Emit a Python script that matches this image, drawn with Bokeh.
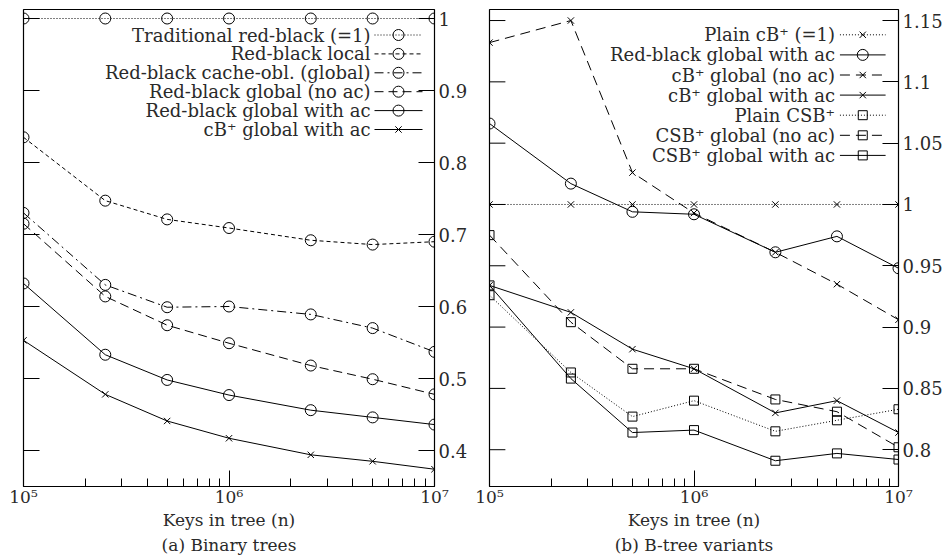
from bokeh.plotting import figure
from bokeh.models import Range1d, FixedTicker, PrintfTickFormatter, Title, LinearScale
from bokeh.layouts import row
from bokeh.core.properties import value
from bokeh.embed import file_html
from bokeh.resources import INLINE

# ---------------- data ----------------
keys = [1e5, 2.5e5, 5e5, 1e6, 2.5e6, 5e6, 1e7]

# (a) Binary trees
bt_traditional = [1.0, 1.0, 1.0, 1.0, 1.0, 1.0, 1.0]
bt_rb_local = [0.835, 0.747, 0.721, 0.709, 0.692, 0.686, 0.690]
bt_rb_cache_obl = [0.730, 0.630, 0.599, 0.600, 0.589, 0.570, 0.537]
bt_rb_global_noac = [0.715, 0.614, 0.574, 0.549, 0.518, 0.499, 0.478]
bt_rb_global_ac = [0.632, 0.533, 0.498, 0.477, 0.456, 0.446, 0.436]
bt_cbp_global_ac = [0.553, 0.478, 0.441, 0.417, 0.394, 0.385, 0.374]

# (b) B-tree variants
bv_plain_cbp = [1.0, 1.0, 1.0, 1.0, 1.0, 1.0, 1.0]
bv_rb_global_ac = [1.066, 1.017, 0.994, 0.992, 0.961, 0.974, 0.948]
bv_cbp_global_noac = [1.132, 1.150, 1.026, 0.993, 0.961, 0.935, 0.906]
bv_cbp_global_ac = [0.934, 0.912, 0.882, 0.866, 0.830, 0.840, 0.814]
bv_plain_csbp = [0.926, 0.863, 0.827, 0.840, 0.815, 0.824, 0.833]
bv_csbp_global_noac = [0.975, 0.904, 0.866, 0.866, 0.841, 0.831, 0.802]
bv_csbp_global_ac = [0.934, 0.858, 0.814, 0.816, 0.791, 0.797, 0.792]

x_major = [1e5, 1e6, 1e7]
x_minor = [2e5, 3e5, 4e5, 5e5, 6e5, 7e5, 8e5, 9e5, 2e6, 3e6, 4e6, 5e6, 6e6, 7e6, 8e6, 9e6]
x_labels = {100000: "10\u2075", 1000000: "10\u2076", 10000000: "10\u2077"}
a_yticks = [0.4, 0.5, 0.6, 0.7, 0.8, 0.9, 1.0]
b_yticks = [0.8, 0.85, 0.9, 0.95, 1.0, 1.05, 1.1, 1.15]

a_series = [
    ("Traditional red-black (=1)", bt_traditional, "circle", "1 2"),
    ("Red-black local", bt_rb_local, "circle", "4 3"),
    ("Red-black cache-obl. (global)", bt_rb_cache_obl, "circle", "9 4 2 4"),
    ("Red-black global (no ac)", bt_rb_global_noac, "circle", "9 5"),
    ("Red-black global with ac", bt_rb_global_ac, "circle", "solid"),
    ("cB\u207a global with ac", bt_cbp_global_ac, "x", "solid"),
]
b_series = [
    ("Plain cB\u207a (=1)", bv_plain_cbp, "x", "1 2"),
    ("Red-black global with ac", bv_rb_global_ac, "circle", "solid"),
    ("cB\u207a global (no ac)", bv_cbp_global_noac, "x", "10 6"),
    ("cB\u207a global with ac", bv_cbp_global_ac, "x", "solid"),
    ("Plain CSB\u207a", bv_plain_csbp, "square", "1 2"),
    ("CSB\u207a global (no ac)", bv_csbp_global_noac, "square", "10 6"),
    ("CSB\u207a global with ac", bv_csbp_global_ac, "square", "solid"),
]

FONT = "DejaVu Serif"
TXT = "#2a2a2a"
FS = "18px"
FSB = "17px"
MSIZE = {"circle": 11, "x": 9, "square": 9}
H = 555
MB_TOP = 9
MB_BOT = 69


def make_panel(width, mbl, mbr, yr, yticks, series, caption, leg):
    p = figure(width=width, height=H, x_axis_type="log",
               x_range=Range1d(1e5, 1e7), y_range=Range1d(*yr),
               y_axis_location="right", output_backend="svg", toolbar_location=None,
               min_border_left=mbl, min_border_right=mbr, min_border_top=MB_TOP,
               min_border_bottom=MB_BOT)
    fw = width - mbl - mbr
    fh = H - MB_TOP - MB_BOT
    p.extra_x_ranges = {"fx": Range1d(0, fw)}
    p.extra_x_scales = {"fx": LinearScale()}
    p.extra_y_ranges = {"fy": Range1d(0, fh)}
    p.extra_y_scales = {"fy": LinearScale()}
    p.grid.visible = False
    p.outline_line_color = "black"
    p.outline_line_width = 1.2
    p.background_fill_color = "white"
    p.border_fill_color = "white"

    # x axis
    xa = p.xaxis[0]
    xa.ticker = FixedTicker(ticks=x_major, minor_ticks=x_minor)
    xa.major_label_overrides = x_labels
    xa.major_tick_in = 16
    xa.major_tick_out = 0
    xa.minor_tick_in = 8
    xa.minor_tick_out = 0
    xa.major_label_standoff = 0
    xa.major_label_text_font = FONT
    xa.major_label_text_font_size = FSB
    xa.major_label_text_color = TXT
    xa.axis_line_color = None
    xa.major_tick_line_color = "black"
    xa.minor_tick_line_color = "black"
    xa.axis_label = "Keys in tree (n)"
    xa.axis_label_standoff = 0
    xa.axis_label_text_font = FONT
    xa.axis_label_text_font_size = FSB
    xa.axis_label_text_font_style = "normal"
    xa.axis_label_text_color = TXT

    # right y axis (labelled)
    ya = p.yaxis[0]
    ya.ticker = FixedTicker(ticks=yticks)
    ya.formatter = PrintfTickFormatter(format="%g")
    ya.major_tick_in = 16
    ya.major_tick_out = 0
    ya.minor_tick_line_color = None
    ya.major_label_standoff = 4
    ya.major_label_text_font = FONT
    ya.major_label_text_font_size = FS
    ya.major_label_text_color = TXT
    ya.axis_line_color = None

    # mirrored major ticks on the left edge (inward)
    p.segment(x0=[0] * len(yticks), x1=[16] * len(yticks), y0=yticks, y1=yticks,
              x_range_name="fx", line_color="black", line_width=1)

    # data
    for name, ys, mk, dash in series:
        p.line(keys, ys, line_color="black", line_width=1, line_dash=dash)
        p.scatter(keys, ys, marker=mk, size=MSIZE[mk], line_color="black",
                  fill_color=None, line_width=1)

    # legend (gnuplot style: right-aligned text, sample on the right)
    tx, s0, s1, sm, top, step = leg
    for i, (name, ys, mk, dash) in enumerate(series):
        yy = fh - (top + step * i)
        p.text(x=[tx], y=[yy], text=[name], x_range_name="fx", y_range_name="fy",
               text_align="right", text_baseline="middle", text_font=value(FONT),
               text_font_size=FS, text_color=TXT)
        p.line([s0, s1], [yy, yy], x_range_name="fx", y_range_name="fy",
               line_color="black", line_width=1, line_dash=dash)
        p.scatter([sm], [yy], x_range_name="fx", y_range_name="fy", marker=mk,
                  size=MSIZE[mk], line_color="black", fill_color=None, line_width=1)

    # caption below the axis
    p.add_layout(Title(text=caption, align="center", text_font=FONT, text_font_size=FSB,
                       text_font_style="normal", text_color=TXT, standoff=0), "below")
    return p


p1 = make_panel(471, 23, 37, (0.35, 1.0125), a_yticks, a_series, "(a) Binary trees",
                (347, 351, 399, 375, 25.5, 18.9))
p2 = make_panel(474, 18, 44, (0.77, 1.159), b_yticks, b_series, "(b) B-tree variants",
                (348, 353, 399, 376, 25.3, 20.1))

layout = row(p1, p2)
open("out.html", "w").write(file_html(layout, INLINE))
